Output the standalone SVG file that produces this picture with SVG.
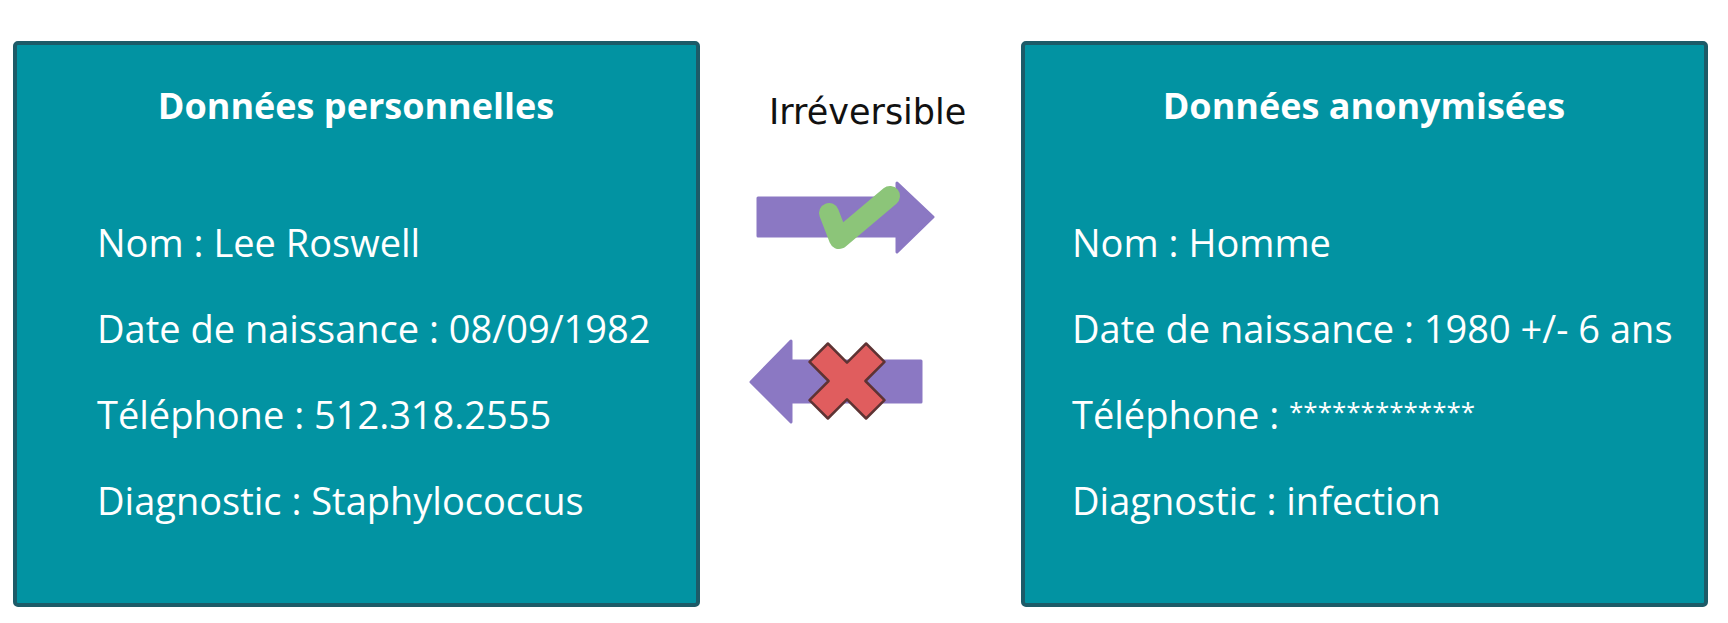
<svg xmlns="http://www.w3.org/2000/svg" width="1728" height="623" viewBox="0 0 1728 623">
  <style>
    .box { fill: #0293a2; stroke: #1d5b68; stroke-width: 4; }
    .title { font-family: "Open Sans", Lato, sans-serif; font-weight: 700; font-size: 36px; fill: #ffffff; text-anchor: middle; }
    .body { font-family: "Open Sans", Lato, sans-serif; font-weight: 400; font-size: 38px; fill: #ffffff; }
    .stars { font-size: 26px; }
    .label { font-family: "DejaVu Sans", "Open Sans", sans-serif; font-weight: 400; font-size: 35px; fill: #111111; }
    .arrow { fill: #8b78c3; stroke: #8b78c3; stroke-width: 3; stroke-linejoin: round; }
  </style>
  <rect width="1728" height="623" fill="#ffffff"/>

  <g id="personal">
    <rect class="box" x="15" y="43" width="683" height="562" rx="3"/>
    <text class="title" x="356" y="119">Données personnelles</text>
    <text class="body" x="97" y="257">Nom : Lee Roswell</text>
    <text class="body" x="97" y="343">Date de naissance : 08/09/1982</text>
    <text class="body" x="97" y="429">Téléphone : 512.318.2555</text>
    <text class="body" x="97" y="515">Diagnostic : Staphylococcus</text>
  </g>

  <g id="anonymised">
    <rect class="box" x="1023" y="43" width="683" height="562" rx="3"/>
    <text class="title" x="1364" y="119">Données anonymisées</text>
    <text class="body" x="1072" y="257">Nom : Homme</text>
    <text class="body" x="1072" y="343">Date de naissance : 1980 +/- 6 ans</text>
    <text class="body" x="1072" y="429">Téléphone : <tspan class="stars" dy="-8">*************</tspan></text>
    <text class="body" x="1072" y="515">Diagnostic : infection</text>
  </g>

  <g id="connectors">
    <text class="label" x="769" y="124">Irréversible</text>
    <g id="forward">
      <path class="arrow" d="M758,198 L897,198 L897,183 L933,217 L897,252 L897,236 L758,236 Z"/>
      <path d="M829,213 L839,239 L890,196" fill="none" stroke="#8cc579" stroke-width="20" stroke-linecap="round" stroke-linejoin="round"/>
    </g>
    <g id="backward">
      <path class="arrow" d="M921,361 L791,361 L791,341 L751,382 L791,422 L791,402 L921,402 Z"/>
      <path d="M847,362.6 L866.1,343.5 L884.5,361.9 L865.4,381 L884.5,400.1 L866.1,418.5 L847,399.4 L827.9,418.5 L809.5,400.1 L828.6,381 L809.5,361.9 L827.9,343.5 Z" fill="#e05d5e" stroke="#5e3333" stroke-width="2.5" stroke-linejoin="round"/>
    </g>
  </g>
</svg>
